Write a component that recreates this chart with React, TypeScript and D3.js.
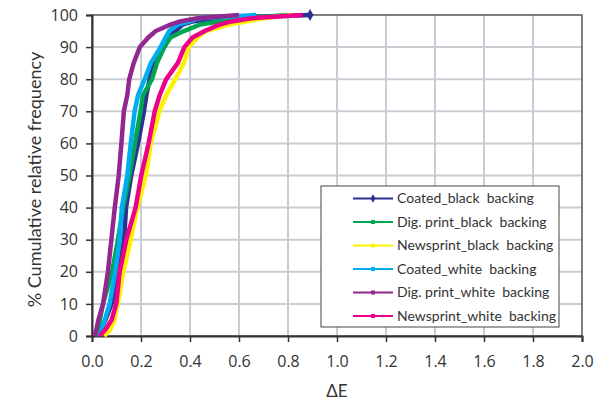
import React, { useRef, useEffect } from 'react';
import * as d3 from 'd3';

// cumulative % levels shared by all series
const percentLevels = [0, 2, 5, 10, 20, 30, 40, 50, 60, 70, 75, 80, 85, 90, 93, 95, 97, 98, 99, 100];

// delta E at each percent level
const coatedBlack = [0.02, 0.035, 0.055, 0.08, 0.11, 0.131, 0.139, 0.16, 0.188, 0.212, 0.222, 0.235, 0.255, 0.295, 0.315, 0.34, 0.37, 0.41, 0.5, 0.89];
const digPrintBlack = [0.015, 0.025, 0.032, 0.045, 0.082, 0.106, 0.127, 0.153, 0.175, 0.198, 0.208, 0.245, 0.265, 0.295, 0.32, 0.375, 0.44, 0.52, 0.62, 0.8];
const newsprintBlack = [0.05, 0.075, 0.092, 0.105, 0.128, 0.158, 0.185, 0.22, 0.24, 0.275, 0.303, 0.34, 0.375, 0.395, 0.43, 0.465, 0.56, 0.63, 0.7, 0.82];
const coatedWhite = [0.03, 0.04, 0.052, 0.072, 0.095, 0.113, 0.122, 0.144, 0.158, 0.174, 0.188, 0.215, 0.24, 0.28, 0.3, 0.315, 0.35, 0.4, 0.44, 0.67];
const digPrintWhite = [0.01, 0.018, 0.026, 0.045, 0.065, 0.079, 0.093, 0.109, 0.12, 0.13, 0.144, 0.152, 0.17, 0.195, 0.23, 0.26, 0.32, 0.36, 0.43, 0.6];
const newsprintWhite = [0.03, 0.055, 0.08, 0.099, 0.113, 0.14, 0.178, 0.201, 0.231, 0.256, 0.276, 0.303, 0.35, 0.377, 0.41, 0.46, 0.52, 0.57, 0.65, 0.86];

const seriesNames = [
  'Coated_black  backing',
  'Dig. print_black  backing',
  'Newsprint_black  backing',
  'Coated_white  backing',
  'Dig. print_white  backing',
  'Newsprint_white  backing',
];
const seriesValues = [coatedBlack, digPrintBlack, newsprintBlack, coatedWhite, digPrintWhite, newsprintWhite];
const seriesColors = ['#2e3192', '#00a651', '#fff200', '#00aeef', '#92278f', '#ec008c'];

const xTicks = [0, 0.2, 0.4, 0.6, 0.8, 1.0, 1.2, 1.4, 1.6, 1.8, 2.0];
const yTicks = [0, 10, 20, 30, 40, 50, 60, 70, 80, 90, 100];

const FONT = 'Lato, "Open Sans", sans-serif';
const TICK_FONT = '"Open Sans", Lato, sans-serif';

export default function App() {
  const ref = useRef<SVGSVGElement>(null);

  useEffect(() => {
    if (!ref.current) return;
    const svg = d3.select(ref.current);
    svg.selectAll('*').remove();

    const left = 92, right = 582, top = 15, bottom = 336;

    const x = d3.scaleLinear().domain([0, 2]).range([left, right]);
    const y = d3.scaleLinear().domain([0, 100]).range([bottom, top]);

    svg.append('rect').attr('width', 596).attr('height', 403).attr('fill', '#fff');

    // grid
    const grid = svg.append('g').attr('stroke', '#c9ccd3').attr('stroke-width', 2);
    grid.selectAll('.vg').data(xTicks.slice(1, -1)).enter().append('line')
      .attr('x1', d => x(d)).attr('x2', d => x(d)).attr('y1', top).attr('y2', bottom);
    grid.selectAll('.hg').data(yTicks.slice(1, -1)).enter().append('line')
      .attr('x1', left).attr('x2', right).attr('y1', d => y(d)).attr('y2', d => y(d));

    // frame
    svg.append('rect')
      .attr('x', left).attr('y', top).attr('width', right - left).attr('height', bottom - top)
      .attr('fill', 'none').attr('stroke', '#555').attr('stroke-width', 1.5);

    // axes
    const xAxis = svg.append('g')
      .attr('transform', `translate(0,${bottom})`)
      .call(d3.axisBottom(x).tickValues(xTicks).tickSize(6).tickPadding(14).tickFormat(d3.format('.1f')));
    const yAxis = svg.append('g')
      .attr('transform', `translate(${left},0)`)
      .call(d3.axisLeft(y).tickValues(yTicks).tickSize(6).tickPadding(8));
    [xAxis, yAxis].forEach(a => {
      a.select('.domain').attr('stroke', '#333').attr('stroke-width', 2);
      a.selectAll('.tick line').attr('stroke', '#333').attr('stroke-width', 1.5);
      a.selectAll('.tick text').attr('fill', '#333').style('font-family', TICK_FONT).style('font-size', '16px');
    });

    // series
    const line = d3.line<number>()
      .x(d => x(d))
      .y((_, i) => y(percentLevels[i]));

    seriesValues.forEach((vals, s) => {
      svg.append('path')
        .datum(vals)
        .attr('fill', 'none')
        .attr('stroke', seriesColors[s])
        .attr('stroke-width', 4.5)
        .attr('stroke-linejoin', 'miter')
        .attr('d', line);
    });

    // end marker of Coated_black
    const last = coatedBlack.length - 1;
    svg.append('path')
      .attr('d', d3.symbol(d3.symbolDiamond, 40)())
      .attr('transform', `translate(${x(coatedBlack[last])},${y(percentLevels[last])})`)
      .attr('fill', seriesColors[0]);

    // axis titles
    svg.append('text')
      .attr('x', (left + right) / 2).attr('y', 397)
      .attr('text-anchor', 'middle')
      .style('font-family', FONT).style('font-size', '17px').attr('fill', '#333')
      .text('ΔE');
    svg.append('text')
      .attr('transform', `translate(41,${(top + bottom) / 2 + 4}) rotate(-90)`)
      .attr('text-anchor', 'middle')
      .style('font-family', FONT).style('font-size', '18px').attr('fill', '#333')
      .text('% Cumulative relative frequency');

    // legend
    const legend = svg.append('g').attr('transform', 'translate(321,186)');
    legend.append('rect')
      .attr('width', 238).attr('height', 141)
      .attr('fill', '#fff').attr('stroke', '#444').attr('stroke-width', 1);
    seriesNames.forEach((name, i) => {
      const row = legend.append('g').attr('transform', `translate(0,${12.5 + i * 23.5})`);
      row.append('line').attr('x1', 32).attr('x2', 72).attr('y1', 0).attr('y2', 0)
        .attr('stroke', seriesColors[i]).attr('stroke-width', 2);
      row.append('path')
        .attr('d', d3.symbol(i === 0 ? d3.symbolDiamond : d3.symbolSquare, i === 0 ? 22 : 16)())
        .attr('transform', 'translate(52,0)')
        .attr('fill', seriesColors[i]);
      row.append('text')
        .attr('x', 76).attr('y', 0).attr('dy', '0.35em')
        .style('font-family', FONT).style('font-size', '14px').style('white-space', 'pre')
        .attr('fill', '#333')
        .text(name);
    });
  }, []);

  return (
    <svg ref={ref} width={596} height={403} style={{ position: 'absolute', left: 0, top: 0 }} />
  );
}
